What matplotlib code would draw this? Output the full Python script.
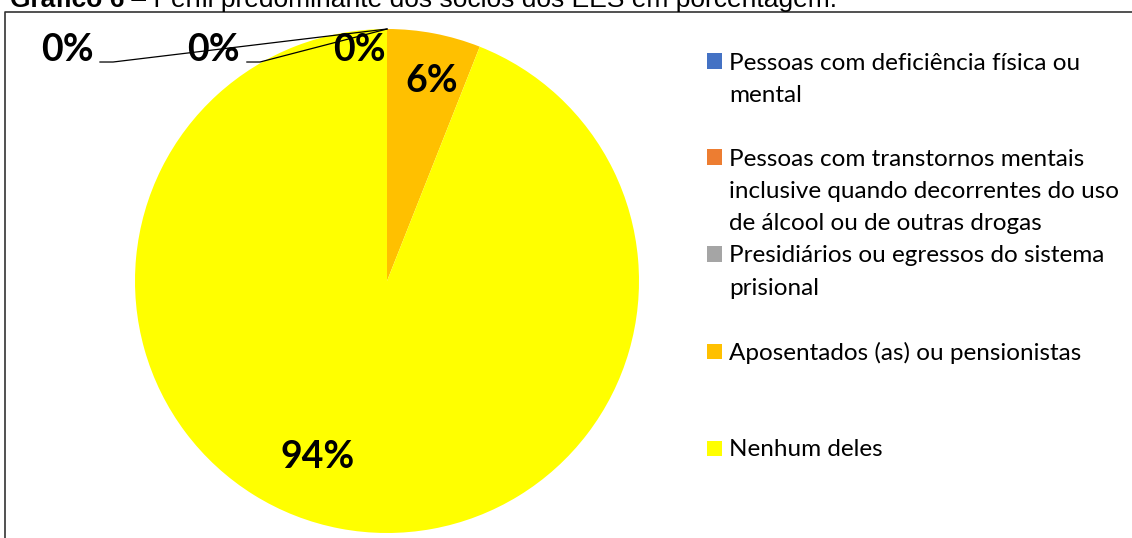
import numpy as np
import matplotlib
matplotlib.use("Agg")
import matplotlib.pyplot as plt
import matplotlib.patches as mpatches
from matplotlib.lines import Line2D

# Data
categories = [
    "Pessoas com deficiência física ou\nmental",
    "Pessoas com transtornos mentais\ninclusive quando decorrentes do uso\nde álcool ou de outras drogas",
    "Presidiários ou egressos do sistema\nprisional",
    "Aposentados (as) ou pensionistas",
    "Nenhum deles",
]
values = [0, 0, 0, 6, 94]
colors = ["#4472C4", "#ED7D31", "#A5A5A5", "#FFC000", "#FFFF00"]
title_bold = "Gráfico 6"
title_rest = " – Perfil predominante dos sócios dos EES em porcentagem."

W, H = 1132, 538
fig = plt.figure(figsize=(W / 100, H / 100), dpi=100)

# pie axes: centre (387, 281) px, radius 252 px
cx, cy, r = 387, 281, 252
ax = fig.add_axes([(cx - r) / W, (H - cy - r) / H, 2 * r / W, 2 * r / H])
ax.pie(values, colors=colors, startangle=90, counterclock=False,
       radius=1, wedgeprops=dict(linewidth=0))
ax.set_xlim(-1, 1)
ax.set_ylim(-1, 1)
ax.set_aspect("equal")
ax.axis("off")

# data labels (Excel "best fit" placement)
lab_pos = [(-1.270, 0.915), (-0.690, 0.915), (-0.111, 0.915), (0.179, 0.795), (-0.274, -0.700)]
for v, (x, y) in zip(values, lab_pos):
    ax.text(x, y, f"{v}%", ha="center", va="center", fontsize=27,
            fontweight="bold", family="Lato", color="black")

# leader lines for the first two 0% labels
for ex, ee in [(-1.087, -1.139), (-0.504, -0.556)]:
    ax.add_line(Line2D([0, ex, ee], [1, 0.869, 0.869], color="black",
                       linewidth=0.9, clip_on=False))

# legend drawn by hand so the marker sits at the first line
leg_y = [61, 157, 254, 351, 448]
line_h = 32.5
for lab, col, y in zip(categories, colors, leg_y):
    fig.patches.append(mpatches.Rectangle((707 / W, (H - y - 7.5) / H), 15 / W, 15 / H,
                                          transform=fig.transFigure, facecolor=col,
                                          edgecolor="none"))
    for i, line in enumerate(lab.split("\n")):
        fig.text(729 / W, (H - y - i * line_h) / H, line, ha="left", va="center_baseline",
                 fontsize=17.5, family="Lato", color="black")

# chart frame (top and left edges visible)
fig.add_artist(Line2D([5 / W, 5 / W, 1], [0, (H - 12) / H, (H - 12) / H],
                      transform=fig.transFigure, color="#333333", linewidth=1.2))

# title, cut off at the top of the image
t = fig.text(10 / W, (H - 7) / H, title_bold, ha="left", va="baseline",
             fontsize=19, fontweight="bold", family="Liberation Sans")
fig.canvas.draw()
bb = t.get_window_extent()
fig.text(bb.x1 / W, (H - 7) / H, title_rest, ha="left", va="baseline",
         fontsize=19, family="Liberation Sans")

fig.savefig("out.png", dpi=100)
